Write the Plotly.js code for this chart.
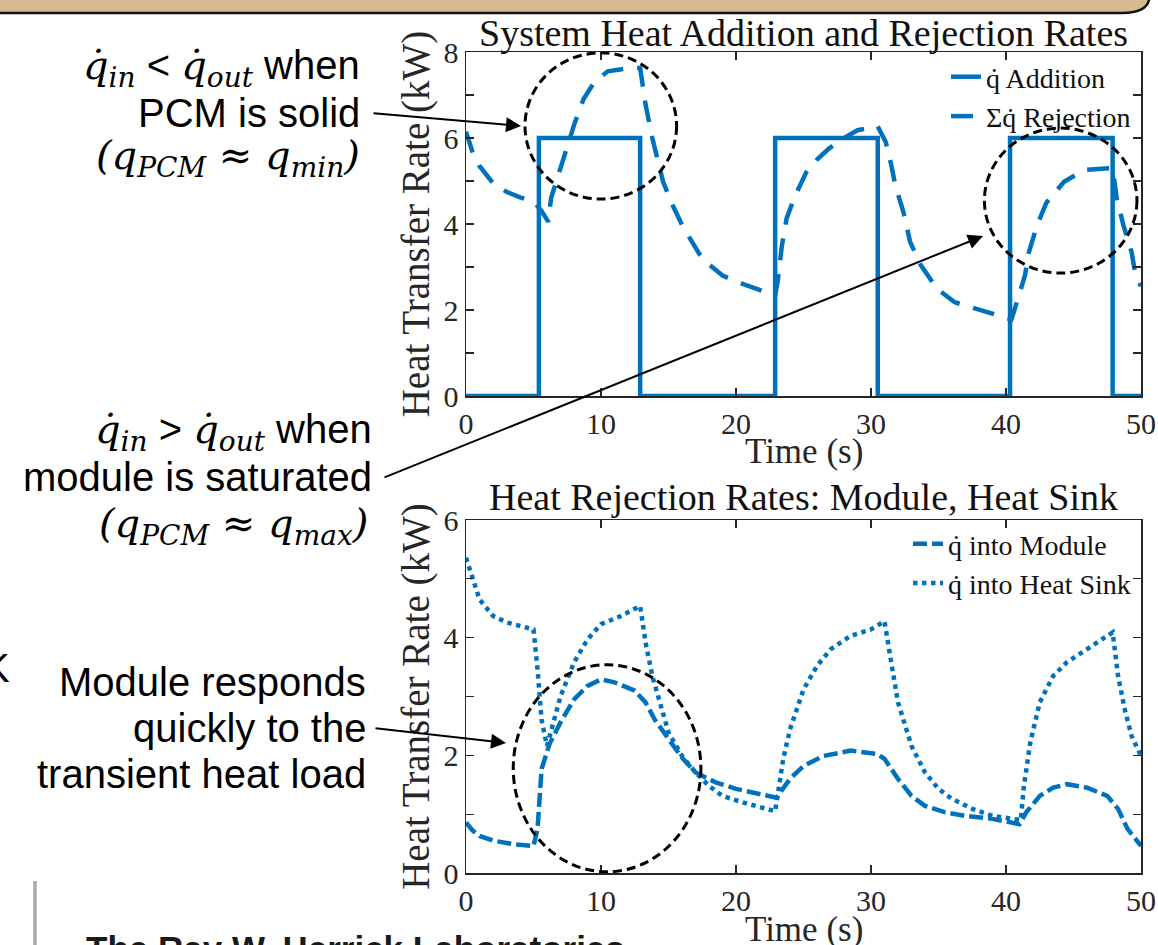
<!DOCTYPE html>
<html>
<head>
<meta charset="utf-8">
<script src="https://cdn.plot.ly/plotly-3.0.1.min.js"></script>
<style>html,body{margin:0;padding:0;background:#fff;}#chart{width:1158px;height:945px;}</style>
</head>
<body>
<div id="chart"></div>
<script>
// ---------- DATA ----------
// Top panel: heat addition (square pulses) and total heat rejection
var tAdd = [0, 5.4, 5.4, 12.9, 12.9, 22.9, 22.9, 30.5, 30.5, 40.3, 40.3, 47.9, 47.9, 50];
var qAdd = [0, 0, 6, 6, 0, 0, 6, 6, 0, 0, 6, 6, 0, 0];

var tRej = [0, 0.5, 1, 1.5, 2, 3, 4, 5, 5.6, 6.1, 6.3, 7, 7.5, 8, 8.7, 9.5, 10.5, 11.5, 12.2, 12.9,
            13.3, 13.8, 14.6, 15.3, 16, 16.6, 17.5, 19, 20.8, 22.9, 23.1, 23.4, 23.75, 24.3, 25.2, 26,
            26.9, 28, 29, 30.5, 31.1, 31.5, 31.8, 32.4, 32.9, 33.7, 34.9, 36.2, 38.1, 40.4, 40.8, 41.4,
            41.7, 42.3, 43, 44.3, 45.8, 47.9, 48.2, 48.7, 49.3, 49.6, 50];
var qRej = [6.15, 5.65, 5.35, 5.15, 4.95, 4.75, 4.62, 4.52, 4.3, 4.05, 4.6, 5.3, 5.8, 6.3, 6.9, 7.3, 7.55, 7.6, 7.63, 7.63,
            6.78, 6.0, 4.98, 4.44, 3.98, 3.66, 3.19, 2.8, 2.57, 2.34, 2.7, 3.5, 4.13, 4.6, 5.2, 5.5,
            5.76, 6.0, 6.18, 6.27, 5.9, 5.37, 4.9, 4.28, 3.58, 3.04, 2.49, 2.18, 1.99, 1.78, 2.18, 2.8,
            3.35, 3.97, 4.5, 4.98, 5.26, 5.3, 4.6, 3.97, 3.35, 2.8, 2.55];

// Bottom panel: heat into module and into heat sink
var tMod = [0, 0.5, 1, 2, 3.5, 5, 5.3, 5.6, 6.2, 7, 8, 9, 10, 11, 12.5, 13.3, 14, 15, 16, 17, 18.5, 20, 22, 23,
            24, 25, 26.5, 28.5, 30.5, 31, 32, 33, 34, 35.5, 37, 39, 41, 41.5, 42.5, 43.5, 44.5, 46, 47.5, 48.3, 49, 50];
var qMod = [0.86, 0.72, 0.63, 0.55, 0.49, 0.46, 0.75, 1.77, 2.2, 2.56, 2.95, 3.18, 3.29, 3.24, 3.1, 2.9, 2.6, 2.27, 1.96, 1.71, 1.54, 1.43, 1.34, 1.28,
            1.6, 1.82, 1.99, 2.08, 2.02, 1.94, 1.6, 1.31, 1.14, 1.03, 0.97, 0.92, 0.83, 1.03, 1.31, 1.45, 1.51, 1.45, 1.31, 1.09, 0.75, 0.46];

var tSink = [0, 0.5, 1, 2, 3, 4, 5, 5.3, 5.6, 6, 6.5, 7, 8, 9, 10, 11.5, 12.9, 13.3, 13.8, 14.5, 15, 16, 17, 18, 19, 20.5, 22.5, 22.9,
             23.5, 24, 25, 26, 27, 28.5, 30, 31, 31.5, 32, 33, 34, 35, 36, 37.5, 39, 40.5, 41.1, 41.3, 41.8, 42.5, 43.5, 44.5, 46, 47.9,
             48.3, 48.8, 49.3, 50];
var qSink = [5.36, 5.0, 4.65, 4.37, 4.26, 4.2, 4.14, 3.46, 2.6, 2.16, 2.56, 3.0, 3.58, 3.97, 4.23, 4.37, 4.54, 3.92, 3.35, 2.78, 2.39, 1.99, 1.71, 1.48, 1.31, 1.2, 1.09, 1.05,
             1.94, 2.44, 3.12, 3.52, 3.8, 4.03, 4.14, 4.28, 3.58, 2.9, 2.16, 1.71, 1.43, 1.26, 1.09, 0.97, 0.92, 0.9, 1.43, 2.22, 2.9, 3.35, 3.58, 3.8, 4.09,
             3.35, 2.78, 2.33, 1.99];

var xTicks = [0, 10, 20, 30, 40, 50];
var yTicksTop = [0, 1, 2, 3, 4, 5, 6, 7, 8];
var yTickTextTop = ['0', '', '2', '', '4', '', '6', '', '8'];
var yTicksBot = [0, 1, 2, 3, 4, 5, 6];
var yTickTextBot = ['0', '', '2', '', '4', '', '6'];

var names = ['q\u0307 Addition', '\u03A3q\u0307 Rejection', 'q\u0307 into Module', 'q\u0307 into Heat Sink'];

// ---------- LAYOUT HELPERS ----------
var W = 1158, H = 945;
function px(x) { return x / W; }
function py(y) { return 1 - y / H; }

var blue = '#0072BD';
var serif = 'Liberation Serif, Times New Roman, serif';
var sans = 'Liberation Sans, Arial, sans-serif';
var axColor = '#262626';

var traces = [
  {x: tAdd, y: qAdd, name: names[0], mode: 'lines', line: {color: blue, width: 4.5}, xaxis: 'x', yaxis: 'y', legend: 'legend'},
  {x: tRej, y: qRej, name: names[1], mode: 'lines', line: {color: blue, width: 4.5, dash: '22px,14px'}, xaxis: 'x', yaxis: 'y', legend: 'legend'},
  {x: tMod, y: qMod, name: names[2], mode: 'lines', line: {color: blue, width: 4.5, dash: '14px,5px'}, xaxis: 'x2', yaxis: 'y2', legend: 'legend2'},
  {x: tSink, y: qSink, name: names[3], mode: 'lines', line: {color: blue, width: 4.5, dash: 'dot'}, xaxis: 'x2', yaxis: 'y2', legend: 'legend2'}
];

function xAxis(anchor) {
  return {
    domain: [px(466), px(1141)], range: [0, 50], anchor: anchor,
    tickvals: xTicks, ticks: 'inside', ticklen: 8, tickwidth: 1.2, tickcolor: axColor,
    showline: true, linecolor: axColor, linewidth: 1.5, mirror: 'ticks',
    showgrid: false, zeroline: false,
    tickfont: {family: serif, size: 30, color: axColor}
  };
}
function yAxis(anchor, dom, rng, tv, tt) {
  return {
    domain: dom, range: rng, anchor: anchor,
    tickvals: tv, ticktext: tt, ticks: 'inside', ticklen: 8, tickwidth: 1.2, tickcolor: axColor,
    showline: true, linecolor: axColor, linewidth: 1.5, mirror: 'ticks',
    showgrid: false, zeroline: false,
    tickfont: {family: serif, size: 30, color: axColor},
    title: {text: 'Heat Transfer Rate (kW)', font: {family: serif, size: 39, color: axColor}, standoff: 2}
  };
}

var mathStyle = "font-family:'DejaVu Serif';font-style:italic;font-size:40px";
function mathSpan(s) { return "<span style=\"" + mathStyle + "\">" + s + "</span>"; }
var qd = 'q\u0307';

var notes = [
  // Block 1
  {t: mathSpan(qd + '<sub>in</sub>') + ' &lt; ' + mathSpan(qd + '<sub>out</sub>') + ' when', x: 362, y: 68},
  {t: 'PCM is solid', x: 362, y: 113},
  {t: mathSpan('(q<sub>PCM</sub> \u2248 q<sub>min</sub>)'), x: 362, y: 158},
  // Block 2
  {t: mathSpan(qd + '<sub>in</sub>') + ' &gt; ' + mathSpan(qd + '<sub>out</sub>') + ' when', x: 374, y: 432},
  {t: 'module is saturated', x: 374, y: 477},
  {t: mathSpan('(q<sub>PCM</sub> \u2248 q<sub>max</sub>)'), x: 370, y: 526},
  // Block 3
  {t: 'Module responds', x: 368, y: 682},
  {t: 'quickly to the', x: 368, y: 728},
  {t: 'transient heat load', x: 368, y: 774}
];

var annotations = [];
notes.forEach(function (n) {
  annotations.push({
    xref: 'paper', yref: 'paper', x: px(n.x), y: py(n.y), xanchor: 'right', yanchor: 'middle',
    text: n.t, showarrow: false, font: {family: sans, size: 40, color: '#000'}
  });
});

// Panel titles
annotations.push({xref: 'x domain', yref: 'paper', x: 0.5, y: py(33), xanchor: 'center', yanchor: 'middle',
  text: 'System Heat Addition and Rejection Rates', showarrow: false, font: {family: serif, size: 38, color: '#111'}});
annotations.push({xref: 'x domain', yref: 'paper', x: 0.5, y: py(497), xanchor: 'center', yanchor: 'middle',
  text: 'Heat Rejection Rates: Module, Heat Sink', showarrow: false, font: {family: serif, size: 38, color: '#111'}});
// x-axis titles
annotations.push({xref: 'x domain', yref: 'paper', x: 0.5, y: py(452), xanchor: 'center', yanchor: 'middle',
  text: 'Time (s)', showarrow: false, font: {family: serif, size: 35, color: axColor}});
annotations.push({xref: 'x domain', yref: 'paper', x: 0.5, y: py(929), xanchor: 'center', yanchor: 'middle',
  text: 'Time (s)', showarrow: false, font: {family: serif, size: 35, color: axColor}});

// Arrows
var arrows = [
  {hx: 521, hy: 126, tx: 372, ty: 113},
  {hx: 983, hy: 236, tx: 383, ty: 478},
  {hx: 506, hy: 743, tx: 374, ty: 728}
];
arrows.forEach(function (a) {
  annotations.push({
    xref: 'paper', yref: 'paper', x: px(a.hx), y: py(a.hy), axref: 'pixel', ayref: 'pixel',
    ax: a.tx - a.hx, ay: a.ty - a.hy, text: '', showarrow: true,
    arrowhead: 2, arrowsize: 1.5, arrowwidth: 2, arrowcolor: '#000', startstandoff: 0, standoff: 0
  });
});

// Slide fragments
annotations.push({xref: 'paper', yref: 'paper', x: px(84), y: py(948), xanchor: 'left', yanchor: 'middle',
  text: '<b>The Ray W. Herrick Laboratories</b>', showarrow: false, font: {family: sans, size: 35, color: '#1a1a1a'}});
annotations.push({xref: 'paper', yref: 'paper', x: px(12), y: py(668), xanchor: 'right', yanchor: 'middle',
  text: 'K', showarrow: false, font: {family: sans, size: 40, color: '#000'}});

var ell = {type: 'circle', line: {color: '#000', width: 3, dash: '9px,5px'}, fillcolor: 'rgba(0,0,0,0)', layer: 'above'};
var shapes = [
  Object.assign({}, ell, {xref: 'x', yref: 'y', x0: 4.37, x1: 15.6, y0: 4.58, y1: 7.98}),
  Object.assign({}, ell, {xref: 'x', yref: 'y', x0: 38.4, x1: 49.7, y0: 2.86, y1: 6.23}),
  Object.assign({}, ell, {xref: 'x2', yref: 'y2', x0: 3.5, x1: 17.4, y0: 0.02, y1: 3.54}),
  // top banner
  {type: 'path', xref: 'paper', yref: 'paper',
   path: 'M -0.01,1.02 L ' + px(1149) + ',1.02 L ' + px(1149) + ',' + py(0) + ' Q ' + px(1146) + ',' + py(13) + ' ' + px(1122) + ',' + py(13) + ' L -0.01,' + py(13) + ' Z',
   fillcolor: '#d3bb8f', line: {color: '#111', width: 2.5}, layer: 'above'},
  // gray vertical bar bottom-left
  {type: 'line', xref: 'paper', yref: 'paper', x0: px(35), x1: px(35), y0: py(881), y1: py(950), line: {color: '#a9a9a9', width: 3.5}}
];

var layout = {
  width: W, height: H, margin: {l: 0, r: 0, t: 0, b: 0},
  paper_bgcolor: '#fff', plot_bgcolor: '#fff', showlegend: true,
  xaxis: xAxis('y'), yaxis: yAxis('x', [py(396), py(52)], [0, 8], yTicksTop, yTickTextTop),
  xaxis2: xAxis('y2'), yaxis2: yAxis('x2', [py(873), py(520)], [0, 6], yTicksBot, yTickTextBot),
  legend: {x: px(1136), y: py(52), xanchor: 'right', yanchor: 'top', bgcolor: 'rgba(255,255,255,0)',
           font: {family: serif, size: 28, color: '#111'}, tracegroupgap: 0, itemwidth: 30},
  legend2: {x: px(1136), y: py(519), xanchor: 'right', yanchor: 'top', bgcolor: 'rgba(255,255,255,0)',
           font: {family: serif, size: 28, color: '#111'}, tracegroupgap: 0, itemwidth: 30},
  annotations: annotations, shapes: shapes
};

Plotly.newPlot('chart', traces, layout, {displayModeBar: false, staticPlot: true});
</script>
</body>
</html>
